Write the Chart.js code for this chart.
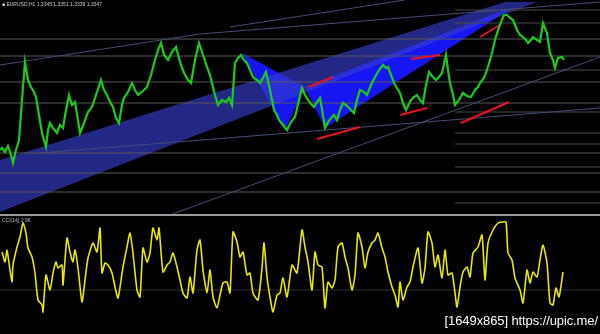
<!DOCTYPE html>
<html>
<head>
<meta charset="utf-8">
<script src="https://cdn.jsdelivr.net/npm/chart.js@4"></script>
<style>
  html, body { margin: 0; padding: 0; background: #000; overflow: hidden; }
  #wrap { position: relative; width: 600px; height: 334px; }
  canvas { display: block; }
  #sep { height: 2px; background: #9a9a9a; margin-bottom: 1px; }
  .tag { position: absolute; font-family: "Liberation Sans", Arial, sans-serif; white-space: nowrap; }
  #header { left: 2px; top: 1px; font-size: 5px; color: #cfcfcf; }
  #oscTag { left: 2px; top: 217px; font-size: 5px; color: #bbb; }
  #stamp { right: 2px; top: 313px; font-size: 13px; letter-spacing: -0.1px; color: #fff; }
</style>
</head>
<body>
<div id="wrap">
  <canvas id="priceChart" width="600" height="214"></canvas>
  <div id="sep"></div>
  <canvas id="oscChart" width="600" height="117"></canvas>
  <div class="tag" id="header">&#9632; EURUSD,H1 1.3345 1.3351 1.3339 1.3347</div>
  <div class="tag" id="oscTag">CCI(14) 2.96</div>
  <div class="tag" id="stamp">[1649x865] https://upic.me/</div>
</div>
<script>
// Price panel: bar position and price.
const priceBars = [0, 2, 5, 8, 11, 13, 16, 19, 22, 25, 28, 31, 34, 36, 39, 42, 46, 48, 50, 53,
  57, 60, 63, 66, 69, 72, 75, 78, 80, 84, 88, 92, 96, 101, 104, 107, 110, 113, 116, 119,
  122, 124, 128, 132, 135, 138, 142, 147, 151, 155, 158, 161, 164, 168, 172, 176, 180, 184, 188, 191,
  195, 199, 203, 207, 210, 212, 215, 218, 222, 226, 229, 232, 235, 238, 241, 244, 247, 250, 253, 257,
  260, 263, 266, 270, 274, 277, 279, 283, 287, 291, 295, 299, 302, 305, 308, 311, 314, 317, 320, 323,
  325, 328, 331, 334, 337, 340, 343, 346, 348, 351, 354, 357, 360, 364, 367, 371, 375, 379, 383, 386,
  388, 391, 394, 397, 400, 403, 406, 409, 411, 414, 417, 420, 423, 426, 429, 432, 436, 439, 442, 446,
  448, 450, 453, 455, 459, 463, 467, 471, 475, 478, 480, 484, 487, 490, 492, 495, 498, 501, 504, 507,
  510, 513, 517, 520, 523, 526, 528, 531, 533, 537, 540, 543, 547, 550, 553, 555, 558, 562, 564];
const priceClose = [1.3230, 1.3232, 1.3228, 1.3234, 1.3225, 1.3217, 1.3230, 1.3240, 1.3280, 1.3318,
  1.3300, 1.3293, 1.3288, 1.3283, 1.3265, 1.3247, 1.3233, 1.3250, 1.3257, 1.3252,
  1.3247, 1.3255, 1.3252, 1.3270, 1.3285, 1.3275, 1.3278, 1.3260, 1.3247, 1.3257,
  1.3268, 1.3273, 1.3285, 1.3300, 1.3290, 1.3285, 1.3278, 1.3273, 1.3262, 1.3257,
  1.3275, 1.3282, 1.3288, 1.3297, 1.3290, 1.3285, 1.3288, 1.3293, 1.3305, 1.3320,
  1.3330, 1.3337, 1.3325, 1.3320, 1.3328, 1.3333, 1.3318, 1.3307, 1.3300, 1.3297,
  1.3320, 1.3337, 1.3325, 1.3313, 1.3305, 1.3297, 1.3285, 1.3275, 1.3280, 1.3278,
  1.3282, 1.3275, 1.3317, 1.3322, 1.3325, 1.3320, 1.3317, 1.3310, 1.3303, 1.3300,
  1.3297, 1.3302, 1.3308, 1.3290, 1.3270, 1.3265, 1.3260, 1.3255, 1.3250, 1.3258,
  1.3263, 1.3280, 1.3292, 1.3285, 1.3280, 1.3276, 1.3273, 1.3278, 1.3282, 1.3265,
  1.3252, 1.3258, 1.3262, 1.3265, 1.3260, 1.3270, 1.3277, 1.3275, 1.3273, 1.3270,
  1.3267, 1.3280, 1.3290, 1.3288, 1.3285, 1.3295, 1.3303, 1.3310, 1.3315, 1.3312,
  1.3313, 1.3305, 1.3297, 1.3292, 1.3287, 1.3277, 1.3270, 1.3276, 1.3280, 1.3283,
  1.3285, 1.3280, 1.3277, 1.3295, 1.3308, 1.3304, 1.3300, 1.3303, 1.3307, 1.3325,
  1.3310, 1.3297, 1.3285, 1.3275, 1.3280, 1.3287, 1.3284, 1.3283, 1.3290, 1.3293,
  1.3297, 1.3302, 1.3310, 1.3320, 1.3327, 1.3340, 1.3350, 1.3358, 1.3365, 1.3365,
  1.3362, 1.3360, 1.3350, 1.3345, 1.3343, 1.3340, 1.3337, 1.3340, 1.3343, 1.3340,
  1.3338, 1.3357, 1.3347, 1.3327, 1.3320, 1.3312, 1.3322, 1.3323, 1.3320];

// Horizontal levels: full width ones and the ones that start at bar 455.
const fullLevels = [1.3341, 1.3324, 1.3298, 1.3277, 1.3227, 1.3207, 1.3188];
const rightLevels = [1.3370, 1.3357, 1.3310, 1.3268, 1.3247, 1.3236, 1.3213, 1.3177];
const rightLevelStart = 455;

// Trend lines, [bar, price] pairs.
const trendUpperA = [[0, 1.3315], [200, 1.3346], [400, 1.3362], [600, 1.3378]];
const trendUpperB = [[230, 1.3353], [405, 1.3380]];
const trendSupport = [[40, 1.3227], [600, 1.3272]];
const trendSteep = [[170, 1.3165], [600, 1.3323]];

// Channel band and the two pattern triangles (upper edge / lower edge).
const channelUpper = [[0, 1.3220], [505, 1.3378], [537, 1.3378]];
const channelLower = [[0, 1.3168], [537, 1.3378]];
const triOneUpper = [[242, 1.3327], [305, 1.3293]];
const triOneLower = [[242, 1.3327], [285, 1.3250], [305, 1.3293]];
const triTwoUpper = [[305, 1.3293], [515, 1.3374]];
const triTwoLower = [[305, 1.3293], [325, 1.3252], [515, 1.3374]];

// Red arrows.
const arrows = [
  [[309, 1.3293], [333, 1.3303]],
  [[317, 1.3241], [360, 1.3253]],
  [[411, 1.3321], [440, 1.3325]],
  [[400, 1.3265], [427, 1.3272]],
  [[461, 1.3257], [509, 1.3278]],
  [[480, 1.3343], [500, 1.3355]],
];

// Oscillator panel.
const oscBars = [2, 5, 7, 9, 12, 13, 17, 20, 23, 26, 28, 32, 35, 38, 42, 43, 46, 50, 53, 56,
  58, 62, 63, 67, 70, 73, 75, 78, 82, 85, 88, 93, 97, 100, 102, 105, 108, 112, 115, 118,
  123, 127, 130, 133, 137, 140, 143, 147, 150, 153, 157, 159, 163, 167, 170, 173, 177, 180, 183, 187,
  190, 193, 197, 200, 203, 207, 210, 213, 217, 220, 223, 227, 230, 233, 237, 240, 243, 247, 250, 253,
  258, 262, 264, 267, 270, 273, 277, 280, 283, 287, 292, 297, 302, 305, 308, 312, 315, 318, 322, 325,
  328, 332, 335, 338, 342, 345, 348, 352, 355, 358, 362, 365, 368, 372, 375, 378, 382, 385, 388, 392,
  395, 398, 400, 403, 407, 410, 413, 418, 422, 425, 428, 432, 435, 438, 442, 445, 448, 452, 455, 457,
  460, 463, 467, 470, 473, 478, 482, 485, 488, 493, 498, 502, 506, 508, 512, 515, 520, 523, 527, 530,
  533, 537, 540, 543, 547, 550, 553, 556, 559, 563];
const oscValues = [52, 12, 60, 8, -68, 0, 72, 112, 168, 128, 68, 32, -32, -140, -160, -188, -40, -100, -32, 12,
  -12, 0, -80, 108, 52, 12, 60, -12, -148, -60, 28, 88, 52, 148, -32, 8, 0, -32, -88, -132,
  -8, 72, 128, 48, -100, -128, 68, 12, 48, 148, 100, 148, -28, 0, 12, 48, -8, -60, -112, -132,
  -48, -112, 60, 100, -20, -112, -20, -128, -172, -120, -72, -68, -112, 132, 92, 32, 52, -40, -32, -112,
  -140, -12, 88, -48, -128, -188, -120, -112, -52, -128, 0, -32, 140, 72, 12, -100, 52, 0, -8, -172,
  -68, -92, -60, 72, 88, 32, -12, -100, -40, 128, 72, -12, 52, 88, 100, 128, 68, 32, -28, -88,
  -120, -168, -68, -140, -88, -68, -8, 68, -72, -12, 132, 88, -8, 40, -52, 60, -40, -32, -112, -168,
  -88, -28, -8, -48, 48, 72, 120, -60, 88, 140, 168, 172, 172, 48, 20, -52, -100, -152, -20, -72,
  -28, -48, 20, 80, 8, -152, -160, -92, -128, -28];
const oscLevel = -100;

document.addEventListener('DOMContentLoaded', () => {
  const toXY = (pairs) => pairs.map(([x, y]) => ({ x, y }));

  // Plain polyline, no points.
  function lineSet(points, color, width, extra = {}) {
    return {
      data: points,
      borderColor: color,
      borderWidth: width,
      pointRadius: 0,
      tension: 0,
      ...extra,
    };
  }

  const priceData = priceBars.map((bar, i) => ({ x: bar, y: priceClose[i] }));

  // Dataset 0 is drawn last (on top), so the order below is front to back.
  const datasets = [];
  datasets.push(lineSet(priceData, '#1ccc1c', 2.2));
  arrows.forEach((a) => datasets.push(lineSet(toXY(a), '#e8141e', 2)));
  const lineCol = '#434d78';
  datasets.push(lineSet(toXY(trendUpperA), lineCol, 1));
  datasets.push(lineSet(toXY(trendUpperB), lineCol, 1));
  datasets.push(lineSet(toXY(trendSupport), lineCol, 1));
  datasets.push(lineSet(toXY(trendSteep), lineCol, 1));
  fullLevels.forEach((lv) => {
    datasets.push(lineSet([{ x: 0, y: lv }, { x: 600, y: lv }], '#585858', 1));
  });
  rightLevels.forEach((lv) => {
    datasets.push(lineSet([{ x: rightLevelStart, y: lv }, { x: 600, y: lv }], '#4a4a4a', 1));
  });

  // Filled shapes: upper edge fills down to the next dataset (its lower edge).
  function band(upper, lower, color) {
    const idx = datasets.length;
    datasets.push(lineSet(toXY(upper), 'rgba(0,0,0,0)', 0, { fill: idx + 1, backgroundColor: color }));
    datasets.push(lineSet(toXY(lower), 'rgba(0,0,0,0)', 0));
  }
  band(channelUpper, channelLower, 'rgba(56,62,205,0.65)');
  band(triOneUpper, triOneLower, '#1616f2');
  band(triTwoUpper, triTwoLower, '#1616f2');

  const hidden = { display: false };

  new Chart(document.getElementById('priceChart').getContext('2d'), {
    type: 'line',
    data: { datasets },
    options: {
      responsive: false,
      animation: false,
      events: [],
      layout: { padding: 0 },
      plugins: { legend: hidden, tooltip: { enabled: false } },
      scales: {
        x: { type: 'linear', min: 0, max: 600, display: false },
        y: { min: 1.3166, max: 1.3380, display: false },
      },
    },
  });

  const oscData = oscBars.map((bar, i) => ({ x: bar, y: oscValues[i] }));

  new Chart(document.getElementById('oscChart').getContext('2d'), {
    type: 'line',
    data: {
      datasets: [
        lineSet(oscData, '#e8e800', 1.6, { tension: 0.2 }),
        lineSet([{ x: 0, y: oscLevel }, { x: 600, y: oscLevel }], '#2e2e2e', 1),
      ],
    },
    options: {
      responsive: false,
      animation: false,
      events: [],
      layout: { padding: 0 },
      plugins: { legend: hidden, tooltip: { enabled: false } },
      scales: {
        x: { type: 'linear', min: 0, max: 600, display: false },
        y: { min: -276, max: 192, display: false },
      },
    },
  });
});
</script>
</body>
</html>
